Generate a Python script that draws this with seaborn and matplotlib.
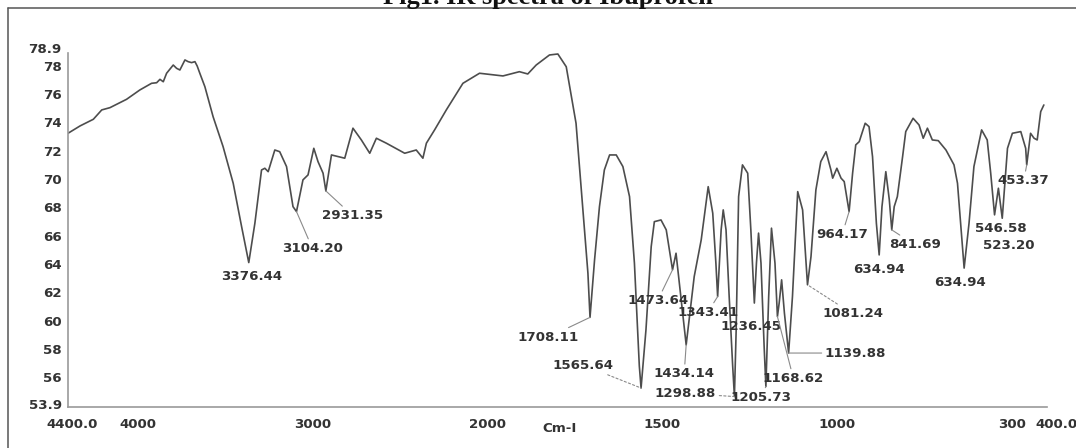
import numpy as np
import pandas as pd
import matplotlib
matplotlib.use("Agg")
import matplotlib.pyplot as plt
import seaborn as sns
from matplotlib.transforms import ScaledTranslation
from matplotlib.lines import Line2D

# ---------------- data ----------------
wavenumber = [
    4400, 4331, 4255, 4207, 4160, 4065, 3989, 3922, 3893, 3874,
    3855, 3836, 3798, 3779, 3760, 3731, 3713, 3693, 3674, 3661,
    3646, 3617, 3570, 3513, 3455, 3407, 3366, 3331, 3293, 3274,
    3255, 3217, 3189, 3150, 3113, 3093, 3056, 3027, 2994, 2970,
    2941, 2925, 2893, 2817, 2770, 2722, 2674, 2636, 2579, 2474,
    2408, 2370, 2350, 2303, 2236, 2141, 2046, 1956, 1909, 1885,
    1861, 1823, 1799, 1775, 1747, 1728, 1713, 1707, 1694, 1680,
    1666, 1651, 1632, 1613, 1594, 1580, 1566, 1561, 1547, 1532,
    1523, 1504, 1489, 1471, 1461, 1432, 1418, 1409, 1389, 1369,
    1356, 1347, 1342, 1332, 1326, 1318, 1309, 1299, 1294, 1289,
    1282, 1271, 1256, 1247, 1237, 1231, 1225, 1218, 1209, 1204,
    1196, 1188, 1178, 1171, 1166, 1159, 1151, 1139, 1128, 1113,
    1099, 1085, 1075, 1061, 1047, 1032, 1018, 1013, 1001, 989,
    980, 966, 956, 947, 937, 920, 909, 899, 888, 880,
    872, 861, 851, 844, 837, 828, 813, 804, 783, 766,
    754, 742, 728, 711, 689, 666, 656, 647, 637, 623,
    609, 587, 571, 561, 550, 539, 528, 513, 499, 475,
    461, 458, 447, 437, 428, 418, 409,
]
transmittance = [
    73.23, 73.75, 74.22, 74.88, 75.04, 75.63, 76.29, 76.76, 76.80, 77.04,
    76.87, 77.47, 78.05, 77.82, 77.70, 78.41, 78.29, 78.22, 78.29, 77.98,
    77.47, 76.52, 74.40, 72.29, 69.70, 66.64, 64.10, 66.88, 70.64, 70.76,
    70.52, 72.05, 71.93, 70.88, 68.05, 67.70, 69.94, 70.29, 72.17, 71.23,
    70.41, 69.16, 71.70, 71.47, 73.59, 72.76, 71.82, 72.88, 72.53, 71.82,
    72.05, 71.47, 72.53, 73.47, 74.88, 76.76, 77.47, 77.28, 77.58, 77.42,
    78.05, 78.76, 78.83, 77.93, 73.94, 68.05, 63.35, 60.23, 64.29, 68.05,
    70.64, 71.70, 71.70, 70.88, 68.76, 64.06, 56.80, 55.24, 59.35, 65.23,
    66.99, 67.11, 66.41, 63.59, 64.76, 58.29, 61.24, 63.11, 65.70, 69.46,
    67.59, 64.06, 61.70, 66.41, 67.82, 66.41, 61.70, 56.80, 54.64, 59.35,
    68.76, 71.00, 70.41, 66.41, 61.24, 64.06, 66.18, 64.06, 58.17, 55.35,
    61.70, 66.53, 64.06, 60.29, 61.24, 62.88, 60.53, 57.71, 61.70, 69.11,
    67.82, 62.53, 64.52, 69.23, 71.23, 71.93, 70.64, 70.06, 70.76, 70.06,
    69.82, 67.70, 70.41, 72.41, 72.64, 73.94, 73.70, 71.58, 66.88, 64.64,
    68.05, 70.52, 68.53, 66.41, 68.05, 68.76, 71.58, 73.35, 74.29, 73.82,
    72.88, 73.59, 72.76, 72.71, 72.05, 71.00, 69.70, 66.88, 63.71, 66.88,
    70.88, 73.47, 72.76, 70.41, 67.47, 69.35, 67.23, 72.17, 73.23, 73.35,
    72.17, 71.00, 73.23, 72.88, 72.76, 74.76, 75.23,
]

peak_labels = [
    "3376.44", "3104.20", "2931.35", "1708.11", "1565.64", "1473.64",
    "1434.14", "1343.41", "1298.88", "1236.45", "1205.73", "1168.62",
    "1139.88", "1081.24", "964.17", "634.94", "841.69", "634.94",
    "546.58", "523.20", "453.37",
]
peak_wavenumbers = [
    3366, 3093, 2925, 1707, 1561, 1471,
    1432, 1342, 1294, 1237, 1204, 1171,
    1139, 1085, 966, 880, 844, 637,
    550, 528, 458,
]

x_tick_values = [4400, 4000, 3000, 2000, 1500, 1000, 500, 400]
x_tick_labels = ["4400.0", "4000", "3000", "2000", "1500", "1000", "300", "400.0"]
y_tick_values = [53.9, 56, 58, 60, 62, 64, 66, 68, 70, 72, 74, 76, 78, 78.9]
y_tick_labels = ["53.9", "56", "58", "60", "62", "64", "66", "68", "70",
                 "72", "74", "76", "78", "78.9"]

title_text = "Fig1. IR spectra of Ibuprofen"
x_label_text = "Cm-I"

# ---------------- layout (label offsets in pixels, leader style) ----------------
label_layout = [
    (3, -14, None), (16, -37, "-"), (27, -25, "-"), (-42, -20, "-"),
    (-58, 23, "--"), (-15, -31, "-"), (-2, -29, "-"), (-10, -16, "-"),
    (-49, 3, "--"), (-3, -23, None), (-5, -11, "-"), (16, -62, "-"),
    (67, 0, "-"), (45, -29, "--"), (-7, -23, "-"), (0, -15, None),
    (23, -15, "-"), (-4, -14, None), (6, -14, None), (7, -27, None),
    (-3, -16, "-"),
]

# ---------------- style ----------------
sns.set_style("white")
plt.rcParams["font.family"] = ["DejaVu Sans"]
text_color = "#333333"
line_color = "#4d4d4d"
fs = 9.6

fig = plt.figure(figsize=(10.76, 4.48), dpi=100)
ax = fig.add_axes([68 / 1076, 1 - 407 / 448, (1047 - 68) / 1076, (407 - 53) / 448])

df = pd.DataFrame({"wavenumber": wavenumber, "transmittance": transmittance})
sns.lineplot(data=df, x="wavenumber", y="transmittance", sort=False,
             estimator=None, color=line_color, linewidth=1.2, ax=ax)


# x scale: 2000-400 region is expanded twice (typical FTIR chart)
def fwd(w):
    w = np.asarray(w, dtype=float)
    return np.where(w <= 2000, (w - 400) * 2.0, 3200 + (w - 2000))


def inv(u):
    u = np.asarray(u, dtype=float)
    return np.where(u <= 3200, u / 2.0 + 400, u - 3200 + 2000)


ax.set_xscale("function", functions=(fwd, inv))
ax.set_xlim(4400, 400)
ax.set_ylim(53.9, 78.9)

ax.set_xticks(x_tick_values)
ax.set_xticklabels(x_tick_labels)
ax.set_yticks(y_tick_values)
ax.set_yticklabels(y_tick_labels)
ax.minorticks_off()
ax.set_xlabel("")
ax.set_ylabel("")

for s in ["top", "right"]:
    ax.spines[s].set_visible(False)
for s in ["left", "bottom"]:
    ax.spines[s].set_color("#9a9a9a")
    ax.spines[s].set_linewidth(1.2)

ax.tick_params(axis="both", direction="out", length=2.5, width=0.8,
               color="#9a9a9a", labelcolor=text_color, labelsize=fs)
ax.tick_params(axis="x", pad=5.5)
ax.tick_params(axis="y", pad=2)
for lab in ax.get_xticklabels() + ax.get_yticklabels():
    lab.set_fontweight("bold")

# nudge the end labels like the reference
xl = ax.get_xticklabels()
xl[0].set_transform(xl[0].get_transform() + ScaledTranslation(4 / 100, 0, fig.dpi_scale_trans))
xl[-1].set_transform(xl[-1].get_transform() + ScaledTranslation(9 / 100, 0, fig.dpi_scale_trans))
yl = ax.get_yticklabels()
yl[-1].set_transform(yl[-1].get_transform() + ScaledTranslation(0, 5 / 100, fig.dpi_scale_trans))
yl[0].set_transform(yl[0].get_transform() + ScaledTranslation(0, 3 / 100, fig.dpi_scale_trans))

# peak annotations
for lab, w, (dx, dy, ls) in zip(peak_labels, peak_wavenumbers, label_layout):
    yv = float(np.interp(w, wavenumber[::-1], transmittance[::-1]))
    kw = {}
    if ls is not None:
        kw["arrowprops"] = dict(arrowstyle="-", color="#8a8a8a", lw=0.8,
                                linestyle=ls if ls == "-" else (0, (2, 2)),
                                shrinkA=0, shrinkB=0)
    ax.annotate(lab, xy=(w, yv), xytext=(dx, dy), textcoords="offset pixels",
                ha="center", va="center", fontsize=fs, fontweight="bold",
                color=text_color, annotation_clip=False, **kw)

ax.text(0.5026, -0.062, x_label_text, transform=ax.transAxes, ha="center",
        va="center", fontsize=fs, fontweight="bold", color=text_color)

# title (partly cut off at the top, as in the reference)
fig.text(548 / 1076, 1 - 4 / 448, title_text, ha="center", va="baseline",
         fontsize=19, fontweight="bold", family=["Liberation Serif"], color="#111111")

# frame lines (top and left)
fig.add_artist(Line2D([8 / 1076, 1.0], [1 - 8.5 / 448, 1 - 8.5 / 448],
                      transform=fig.transFigure, color="#555555", lw=1.1))
fig.add_artist(Line2D([8.3 / 1076, 8.3 / 1076], [1 - 8.5 / 448, 0.0],
                      transform=fig.transFigure, color="#555555", lw=1.1))

fig.savefig("out.png", dpi=100)
